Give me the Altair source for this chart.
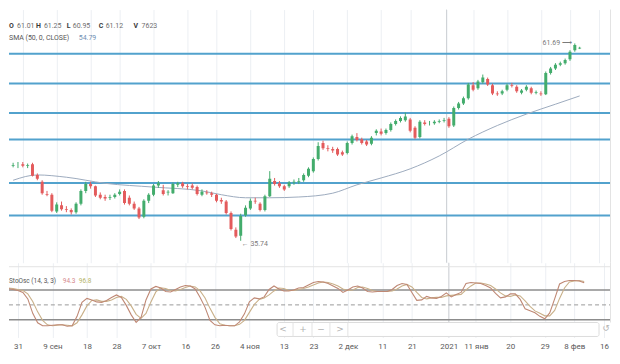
import json
import altair as alt
import pandas as pd

# ---------------- data ----------------
bar_idx = list(range(-2, 116))
opens = [45.6, 45.7,
         45.8, 45.6, 45.8, 44.4, 43.5, 41.9, 41.8, 39.6, 40.4, 39.9,
         39.8, 39.5, 40.6, 42.3, 43.2, 42.9, 41.8, 41.5, 41.4, 41.5,
         41.9, 42.3, 41.4, 40.6, 40.0, 38.9, 41.0, 41.8, 43.0, 42.4,
         42.1, 42.0, 43.1, 43.3, 42.9, 43.0, 42.8, 41.8, 42.1, 42.0,
         41.8, 41.1, 40.9, 39.4, 37.2, 36.4, 39.1, 40.0, 41.0, 40.6,
         39.8, 41.6, 43.6, 43.3, 42.9, 42.9, 43.4, 43.5, 43.7, 44.3,
         44.9, 46.5, 48.6, 47.9, 47.8, 47.8, 47.4, 47.3, 48.6, 49.4,
         49.1, 48.8, 48.5, 49.9, 50.1, 49.9, 50.3, 51.1, 51.5, 51.6,
         51.7, 50.6, 49.4, 51.3, 51.2, 51.2, 51.4, 51.5, 51.8, 50.9,
         53.2, 53.8, 54.5, 56.2, 55.8, 56.6, 57.0, 56.2, 55.1, 55.1,
         55.6, 56.2, 56.0, 55.2, 55.6, 55.8, 55.2, 55.1, 55.0, 57.8,
         58.4, 58.9, 59.1, 59.6, 60.8, 61.01]
highs = [46.0, 46.1,
         46.1, 45.9, 46.0, 44.6, 43.7, 42.3, 42.0, 40.8, 40.9, 40.3,
         40.0, 40.8, 42.5, 43.5, 43.5, 43.0, 42.1, 41.8, 41.8, 42.0,
         42.5, 42.5, 41.7, 40.9, 40.2, 41.2, 42.0, 43.2, 43.6, 43.1,
         42.4, 43.4, 43.5, 43.5, 43.2, 43.3, 43.0, 42.5, 42.4, 42.2,
         41.9, 41.4, 41.1, 39.6, 37.5, 39.3, 40.4, 41.3, 41.4, 40.8,
         41.8, 44.9, 44.0, 43.6, 43.1, 43.6, 43.8, 44.0, 44.6, 45.4,
         46.7, 48.7, 48.9, 48.3, 48.1, 48.0, 47.6, 48.8, 49.7, 49.9,
         49.3, 49.0, 49.5, 50.4, 50.5, 50.5, 51.3, 51.7, 52.1, 52.6,
         51.9, 50.8, 51.6, 51.6, 51.5, 51.6, 51.7, 51.9, 52.0, 53.4,
         54.0, 54.7, 56.5, 56.6, 56.9, 57.6, 57.2, 56.4, 55.4, 55.6,
         56.4, 56.5, 56.2, 55.7, 56.2, 56.0, 55.5, 55.4, 58.0, 58.6,
         59.1, 59.3, 59.7, 60.8, 61.69, 61.25]
lows = [45.4, 45.3,
        45.4, 45.3, 44.2, 43.7, 41.8, 41.6, 39.5, 39.4, 39.7, 39.5,
        39.2, 39.3, 40.4, 42.0, 42.6, 41.5, 41.2, 41.0, 41.1, 41.3,
        41.7, 40.5, 40.4, 39.8, 38.6, 38.7, 40.7, 41.6, 42.7, 41.7,
        41.7, 41.9, 42.8, 42.7, 42.5, 42.5, 41.7, 41.6, 41.8, 41.5,
        40.8, 40.6, 39.2, 37.1, 36.1, 35.74, 38.9, 39.8, 40.6, 39.6,
        39.6, 41.5, 43.0, 42.7, 42.3, 42.7, 43.1, 43.2, 43.5, 44.1,
        44.7, 46.3, 47.7, 47.5, 47.3, 46.9, 46.9, 47.1, 48.4, 48.8,
        48.4, 48.2, 48.3, 49.6, 49.6, 49.7, 50.1, 50.9, 51.3, 51.4,
        50.0, 49.1, 49.2, 50.9, 50.9, 51.0, 51.2, 51.3, 50.6, 50.7,
        53.0, 53.6, 54.3, 55.4, 55.6, 56.4, 56.1, 54.9, 54.8, 54.9,
        55.4, 55.9, 55.2, 55.0, 55.4, 55.0, 55.0, 54.8, 54.9, 57.6,
        58.2, 58.7, 58.9, 59.4, 60.6, 60.95]
closes = [45.7, 45.7,
          45.6, 45.7, 44.3, 43.9, 42.0, 41.8, 39.7, 40.5, 39.9, 39.8,
          39.5, 40.6, 42.3, 43.2, 42.9, 41.7, 41.4, 41.3, 41.5, 41.8,
          42.2, 40.7, 40.6, 40.0, 38.8, 41.0, 41.8, 43.0, 43.3, 41.9,
          42.2, 43.2, 43.3, 42.9, 42.8, 42.7, 41.9, 42.2, 42.0, 41.8,
          41.0, 40.9, 39.4, 37.3, 36.3, 39.0, 40.1, 41.0, 40.9, 39.8,
          41.6, 43.9, 43.2, 42.9, 42.5, 43.4, 43.5, 43.6, 44.4, 45.2,
          46.5, 48.2, 47.9, 47.8, 47.6, 47.1, 47.1, 48.6, 49.5, 49.0,
          48.6, 48.4, 49.3, 50.2, 49.8, 50.3, 51.1, 51.5, 51.9, 52.1,
          50.2, 49.3, 51.4, 51.1, 51.2, 51.4, 51.5, 51.6, 50.8, 53.2,
          53.8, 54.5, 56.3, 55.6, 56.7, 57.2, 56.3, 55.1, 55.0, 55.4,
          56.2, 56.1, 55.4, 55.5, 56.0, 55.2, 55.3, 55.0, 57.8, 58.4,
          58.9, 59.1, 59.5, 60.6, 61.5, 61.12]
volume_last = 7623

sma_idx = [-2, 3, 9, 17, 27, 37, 41, 46, 51, 57, 64, 69, 74, 80, 86, 92, 98, 104, 110, 115]
sma_val = [43.7, 44.4, 44.1, 43.3, 42.8, 42.3, 41.8, 41.4, 41.4, 41.5, 42.0, 43.1, 44.0,
           45.2, 46.9, 49.1, 50.9, 52.4, 53.7, 54.79]

k_vals = [83, 81,
          79, 75, 62, 33, 14, 8, 8, 9, 10, 10,
          7, 8, 27, 55, 63, 60, 56, 55, 59, 65,
          70, 65, 49, 30, 15, 25, 60, 82, 87, 84,
          77, 76, 81, 86, 89, 88, 82, 65, 45, 19,
          10, 8, 9, 8, 8, 16, 32, 56, 64, 62,
          66, 81, 88, 82, 78, 78, 80, 84, 85, 90,
          95, 97, 96, 93, 88, 83, 75, 80, 86, 88,
          84, 77, 76, 77, 77, 77, 81, 89, 93, 91,
          75, 59, 60, 67, 64, 63, 67, 74, 66, 71,
          75, 93, 95, 94, 93, 89, 84, 73, 64, 66,
          72, 72, 61, 42, 38, 34, 27, 22, 34, 62,
          92, 97, 99, 99, 98, 94.3]
d_vals = [84, 83,
          81, 79, 72, 57, 36, 19, 10, 8, 9, 10,
          9, 8, 14, 30, 48, 59, 60, 57, 57, 60,
          65, 67, 61, 48, 31, 23, 33, 56, 76, 84,
          83, 79, 78, 81, 85, 88, 86, 78, 64, 43,
          25, 12, 9, 8, 8, 11, 19, 35, 51, 61,
          64, 70, 78, 84, 83, 79, 79, 81, 83, 86,
          90, 94, 96, 95, 92, 88, 82, 79, 80, 85,
          86, 83, 79, 77, 77, 77, 78, 82, 88, 91,
          86, 75, 65, 62, 64, 65, 65, 68, 69, 70,
          71, 80, 88, 94, 94, 92, 89, 82, 74, 68,
          67, 70, 68, 58, 47, 38, 33, 28, 28, 39,
          63, 84, 96, 98, 99, 96.8]

levels = [60.33, 56.41, 52.56, 49.07, 43.34, 39.08]
stoch_bands = [80, 20]
stoch_mid = [50]
year_break = [87.5]

tick_pos = [0, 7, 14, 20, 27, 34, 40, 47, 54, 60, 67, 74, 80, 87.5, 93, 100, 107, 113, 119]
tick_txt = ["31", "9 сен", "18", "28", "7 окт", "16", "26", "4 ноя", "13", "23",
            "2 дек", "11", "21", "2021", "11 янв", "20", "29", "8 фев", "16"]

n = len(bar_idx)
assert all(len(a) == n for a in (opens, highs, lows, closes, k_vals, d_vals))

# ---------------- frames ----------------
candles = pd.DataFrame({"i": bar_idx, "o": opens, "h": highs, "l": lows, "c": closes})
candles["dir"] = ["up" if c >= o else "down" for o, c in zip(opens, closes)]
sma = pd.DataFrame({"i": sma_idx, "v": sma_val})
k_df = pd.DataFrame({"i": bar_idx, "v": k_vals})
d_df = pd.DataFrame({"i": bar_idx, "v": d_vals})
hi_i = bar_idx[highs.index(max(highs))]
lo_i = bar_idx[lows.index(min(lows))]
extremes = pd.DataFrame({"i": [hi_i, lo_i], "p": [max(highs), min(lows)],
                         "t": [f"{max(highs):.2f} ⟶", f"← {min(lows):.2f}"]})
one = pd.DataFrame({"k": [0]})

W, H1, H2 = 604, 254, 75
FONT = "Roboto"
GREEN, RED = "#43ac6c", "#e35b5c"
LEVEL = "#52a2cd"
GRID = "#eceff3"

xs = alt.Scale(domain=[-1.822, 120.445], nice=False, zero=False)
ys = alt.Scale(domain=[32.857, 66.146], nice=False, zero=False)
ks = alt.Scale(domain=[-15.4, 134.6], nice=False, zero=False)
dir_color = alt.Color("dir:N", scale=alt.Scale(domain=["up", "down"], range=[GREEN, RED]), legend=None)

label_expr = "{}[indexof({}, datum.value)]".format(
    json.dumps(tick_txt, ensure_ascii=False), json.dumps(tick_pos))
AX_TOP = alt.Axis(values=tick_pos, grid=True, gridColor=GRID, labels=False, ticks=False,
                  domain=False, title=None, labelOverlap=False)
AX_BOT = alt.Axis(values=tick_pos, labelExpr=label_expr, grid=True, gridColor=GRID,
                  ticks=False, domain=False, labelFont=FONT, labelFontSize=8,
                  labelColor="#5a5a5a", labelPadding=5, labelFlush=False,
                  labelOverlap=False, labelBound=False, title=None)
XT = alt.X("i:Q", scale=xs, axis=AX_TOP)
XB = alt.X("i:Q", scale=xs, axis=AX_BOT)


def txt(s, x, y, color, size=7, bold=False, align="left", font=FONT):
    return alt.Chart(one).mark_text(
        text=s, align=align, baseline="middle", font=font, fontSize=size,
        fontWeight="bold" if bold else "normal", color=color
    ).encode(x=alt.value(x), y=alt.value(y))


# ---------------- top panel ----------------
year_top = alt.Chart(pd.DataFrame({"i": year_break})).mark_rule(color="#d0d3d7", strokeWidth=1).encode(x=XT)
lv = alt.Chart(pd.DataFrame({"p": levels})).mark_rule(color=LEVEL, strokeWidth=2).encode(
    y=alt.Y("p:Q", scale=ys, axis=None), x=alt.value(0), x2=alt.value(W))
sma_line = alt.Chart(sma).mark_line(color="#9dabbe", strokeWidth=1, interpolate="monotone", clip=True).encode(
    x=XT, y=alt.Y("v:Q", scale=ys, axis=None))
wicks = alt.Chart(candles).mark_rule(strokeWidth=1, clip=True).encode(
    x=XT, y=alt.Y("l:Q", scale=ys, axis=None), y2="h:Q", color=dir_color)
bodies = alt.Chart(candles).mark_bar(size=3, clip=True).encode(
    x=XT, y=alt.Y("o:Q", scale=ys, axis=None), y2="c:Q", color=dir_color)
ext_hi = alt.Chart(extremes.iloc[[0]]).mark_text(align="right", baseline="middle", dx=-3, font=FONT,
                                                 fontSize=7, color="#7a7a7a").encode(
    x=XT, y=alt.Y("p:Q", scale=ys, axis=None), text="t:N")
ext_lo = alt.Chart(extremes.iloc[[1]]).mark_text(align="left", baseline="middle", dx=1, dy=3, font=FONT,
                                                 fontSize=7, color="#7a7a7a").encode(
    x=XT, y=alt.Y("p:Q", scale=ys, axis=None), text="t:N")
right_border = alt.Chart(one).mark_rule(color="#e3e3e3").encode(
    x=alt.value(W - 0.5), y=alt.value(0), y2=alt.value(H1))

LAB, VAL = "#3a3a3a", "#6e6e6e"
legend_top = [
    txt("O", 0, 16, LAB, bold=True), txt(f"{opens[-1]:.2f}", 8, 16, VAL),
    txt("H", 27, 16, LAB, bold=True), txt(f"{highs[-1]:.2f}", 35, 16, VAL),
    txt("L", 58, 16, LAB, bold=True), txt(f"{lows[-1]:.2f}", 64, 16, VAL),
    txt("C", 90, 16, LAB, bold=True), txt(f"{closes[-1]:.2f}", 97, 16, VAL),
    txt("V", 125, 16, LAB, bold=True), txt(f"{volume_last}", 133, 16, VAL),
    txt("SMA (50, 0, CLOSE)", 0, 29, "#555555"), txt(f"{sma_val[-1]:.2f}", 70, 29, "#6f8fb3"),
]

top = alt.layer(year_top, lv, sma_line, wicks, bodies, ext_hi, ext_lo,
                right_border, *legend_top).properties(width=W, height=H1)

# ---------------- bottom panel ----------------
year_bot = alt.Chart(pd.DataFrame({"i": year_break})).mark_rule(color="#d0d3d7", strokeWidth=1).encode(x=XB)
sep = alt.Chart(one).mark_rule(color="#e4e4e4").encode(x=alt.value(0), x2=alt.value(W), y=alt.value(4))
bands = alt.Chart(pd.DataFrame({"v": stoch_bands})).mark_rule(color="#8c8c8c", strokeWidth=1.5).encode(
    y=alt.Y("v:Q", scale=ks, axis=None), x=alt.value(0), x2=alt.value(W))
mid = alt.Chart(pd.DataFrame({"v": stoch_mid})).mark_rule(color="#9a9a9a", strokeWidth=1,
                                                         strokeDash=[4, 3]).encode(
    y=alt.Y("v:Q", scale=ks, axis=None), x=alt.value(0), x2=alt.value(W))
d_line = alt.Chart(d_df).mark_line(strokeWidth=1.1, color="#c9b089", clip=True).encode(
    x=XB, y=alt.Y("v:Q", scale=ks, axis=None))
k_line = alt.Chart(k_df).mark_line(strokeWidth=1.1, color="#bf8874", clip=True).encode(
    x=XB, y=alt.Y("v:Q", scale=ks, axis=None))
nav_box = alt.Chart(one).mark_rect(fill="white", stroke="#dcdcdc", strokeWidth=1, cornerRadius=2).encode(
    x=alt.value(269), x2=alt.value(592), y=alt.value(60), y2=alt.value(74))
nav_div = [alt.Chart(one).mark_rule(color="#e3e3e3").encode(x=alt.value(xv), y=alt.value(60), y2=alt.value(74))
           for xv in (285, 304, 322, 340)]
nav_txt = [txt(g, xv, 67, "#b0b0b0", size=9, align="center", font="DejaVu Sans")
           for g, xv in (("<", 275), ("+", 295), ("−", 313), (">", 332))]
reset = txt("↺", 599, 66, "#b5b5b5", size=9, align="center", font="DejaVu Sans")
right_border2 = alt.Chart(one).mark_rule(color="#e3e3e3").encode(
    x=alt.value(W - 0.5), y=alt.value(0), y2=alt.value(60))
legend_bot = [
    txt("StoOsc (14, 3, 3)", 0, 18, "#555555", size=6.5),
    txt(f"{k_vals[-1]:.1f}", 54, 18, "#d4868b", size=6.5),
    txt(f"{d_vals[-1]:.1f}", 70, 18, "#b3b265", size=6.5),
]

bottom = alt.layer(year_bot, sep, bands, mid, d_line, k_line, nav_box, *nav_div, *nav_txt, reset,
                   right_border2, *legend_bot).properties(width=W, height=H2)

chart = (alt.vconcat(top, bottom, spacing=0, bounds="flush")
         .properties(padding=0)
         .configure_view(stroke=None)
         .configure_axis(labelOverlap=False))
chart.save("out.html", embed_options={"renderer": "svg", "actions": False})
